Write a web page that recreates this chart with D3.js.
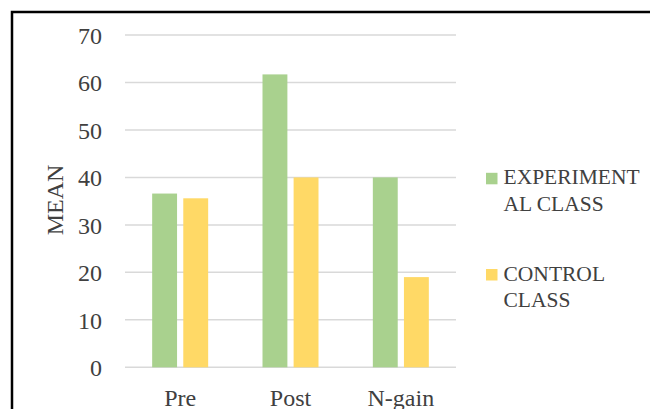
<!DOCTYPE html>
<html>
<head>
<meta charset="utf-8">
<script src="https://cdn.jsdelivr.net/npm/d3@7/dist/d3.min.js"></script>
<style>
  html, body { margin: 0; padding: 0; background: #fff; }
  svg { display: block; font-family: "Liberation Serif", "DejaVu Serif", serif; }
</style>
</head>
<body>
<svg id="chart" width="650" height="409"></svg>
<script>
// Mean scores per test phase
const categories = ["Pre", "Post", "N-gain"];
const seriesNames = ["EXPERIMENTAL CLASS", "CONTROL CLASS"];
const legendLines = [["EXPERIMENT", "AL CLASS"], ["CONTROL", "CLASS"]];
const experimentalValues = [36.6, 61.7, 40.0];
const controlValues = [35.6, 40.0, 19.0];
const yTicks = [0, 10, 20, 30, 40, 50, 60, 70];
const colors = ["#a9d18e", "#ffd966"];

const seriesValues = [experimentalValues, controlValues];
const svg = d3.select("#chart");

// Chart frame (left and top edges visible inside the window)
svg.append("rect")
  .attr("x", 12).attr("y", 12)
  .attr("width", 800).attr("height", 600)
  .attr("fill", "none").attr("stroke", "#000").attr("stroke-width", 2.5);

const plot = { left: 125, right: 456, top: 35, bottom: 367.3 };

const y = d3.scaleLinear().domain([0, 70]).range([plot.bottom, plot.top]);

const step = (plot.right - plot.left) / categories.length;
const inner = 1 - 56 / step;
const x = d3.scaleBand().domain(categories)
  .range([plot.left, plot.right])
  .paddingInner(inner).paddingOuter(inner / 2);
const xs = d3.scaleBand().domain(seriesNames)
  .range([0, x.bandwidth()])
  .paddingInner(0.2);

// Gridlines
svg.append("g").selectAll("line").data(yTicks).join("line")
  .attr("x1", plot.left).attr("x2", plot.right)
  .attr("y1", d => y(d)).attr("y2", d => y(d))
  .attr("stroke", "#d9d9d9").attr("stroke-width", 1.5);

// Y axis tick labels
const yAxis = d3.axisLeft(y).tickValues(yTicks).tickSize(0).tickPadding(0);
const yg = svg.append("g").attr("transform", "translate(102,0)").call(yAxis);
yg.select(".domain").remove();
yg.selectAll("text")
  .attr("font-family", "Liberation Serif, serif")
  .attr("font-size", 24).attr("fill", "#404040")
  .attr("dy", "0.34em");

// Bars
const groups = svg.append("g").selectAll("g").data(categories).join("g")
  .attr("transform", d => `translate(${x(d)},0)`);
groups.selectAll("rect")
  .data((c, i) => seriesNames.map((s, k) => ({ s, k, v: seriesValues[k][i] })))
  .join("rect")
  .attr("x", d => xs(d.s))
  .attr("width", xs.bandwidth())
  .attr("y", d => y(d.v))
  .attr("height", d => y(0) - y(d.v))
  .attr("fill", d => colors[d.k]);

// Category labels
const xAxis = d3.axisBottom(x).tickSize(0).tickPadding(0);
const xg = svg.append("g").attr("transform", "translate(0,406)").call(xAxis);
xg.select(".domain").remove();
xg.selectAll("text")
  .attr("font-family", "Liberation Serif, serif")
  .attr("font-size", 24).attr("fill", "#404040")
  .attr("y", 0).attr("dy", 0);

// Y axis title
svg.append("text")
  .attr("transform", "translate(63,200) rotate(-90)")
  .attr("text-anchor", "middle")
  .attr("font-size", 24).attr("fill", "#404040")
  .text("MEAN");

// Legend
const legendY = [184.3, 280.5];
const legend = svg.append("g").selectAll("g").data(seriesNames).join("g")
  .attr("transform", (d, i) => `translate(486,${legendY[i]})`);
legend.append("rect")
  .attr("x", 0).attr("y", -11.5).attr("width", 11.5).attr("height", 11.5)
  .attr("fill", (d, i) => colors[i]);
legend.append("text")
  .attr("font-size", 21.5).attr("fill", "#404040")
  .selectAll("tspan").data((d, i) => legendLines[i]).join("tspan")
  .attr("x", 17.5).attr("y", (d, j) => j * 26.4)
  .text(d => d);
</script>
</body>
</html>
